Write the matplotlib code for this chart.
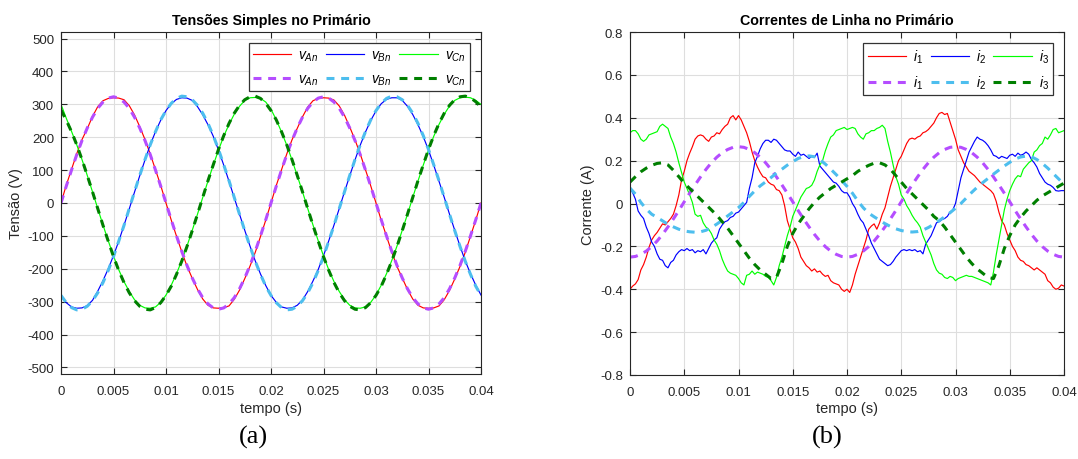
import numpy as np
import matplotlib
matplotlib.use("Agg")
import matplotlib.pyplot as plt

plt.rcParams['font.family'] = ['Liberation Sans', 'DejaVu Sans']
plt.rcParams['mathtext.fontset'] = 'custom'
plt.rcParams['mathtext.it'] = 'Liberation Sans:italic'
plt.rcParams['mathtext.rm'] = 'Liberation Sans'

# ---------------- time bases ----------------
t_v = np.arange(81) * 0.0005       # voltages and fundamental currents
t_i = np.arange(161) * 0.00025     # measured line currents

# ---------------- phase voltages (V) ----------------
vAn = [0, 54, 102, 150, 193, 226, 263, 293, 311, 318, 320, 319, 314, 296, 268, 232, 193, 149, 101, 53,
       0, -52, -101, -148, -192, -229, -263, -292, -311, -319, -320, -318, -313, -293, -265, -230, -192, -150, -102, -52,
       0, 53, 101, 149, 192, 227, 262, 292, 311, 318, 320, 319, 313, 295, 267, 231, 192, 149, 101, 52,
       0, -53, -101, -149, -193, -228, -263, -292, -311, -319, -320, -319, -313, -294, -266, -231, -193, -150, -101, -52, 0]
vAn_f = [0, 51, 100, 147, 190, 228, 261, 288, 307, 319, 323, 319, 307, 288, 261, 228, 190, 147, 100, 51,
         0, -51, -100, -147, -190, -228, -261, -288, -307, -319, -323, -319, -307, -288, -261, -228, -190, -147, -100, -51,
         0, 51, 100, 147, 190, 228, 261, 288, 307, 319, 323, 319, 307, 288, 261, 228, 190, 147, 100, 51,
         0, -51, -100, -147, -190, -228, -261, -288, -307, -319, -323, -319, -307, -288, -261, -228, -190, -147, -100, -51, 0]
vBn = [-283, -303, -316, -320, -319, -312, -296, -268, -236, -200, -160, -116, -68, -18, 33, 83, 131, 177, 217, 252,
       281, 302, 315, 320, 319, 312, 293, 268, 238, 203, 161, 115, 66, 16, -34, -83, -131, -176, -216, -251,
       -281, -302, -316, -320, -319, -311, -295, -269, -237, -202, -160, -115, -67, -17, 34, 83, 131, 176, 216, 251,
       280, 302, 315, 320, 320, 312, 294, 269, 238, 202, 161, 115, 66, 17, -34, -83, -131, -176, -215, -250, -280]
vBn_f = [-281, -303, -318, -325, -323, -314, -297, -273, -242, -205, -163, -116, -68, -17, 34, 84, 132, 177, 217, 253,
         281, 303, 318, 325, 323, 314, 297, 273, 242, 205, 163, 116, 68, 17, -34, -84, -132, -177, -217, -253,
         -281, -303, -318, -325, -323, -314, -297, -273, -242, -205, -163, -116, -68, -17, 34, 84, 132, 177, 217, 253,
         281, 303, 318, 325, 323, 314, 297, 273, 242, 205, 163, 116, 68, 17, -34, -84, -132, -177, -217, -253, -281]
vCn = [300, 258, 218, 177, 132, 84, 34, -17, -67, -115, -161, -203, -239, -269, -294, -311, -319, -320, -316, -302,
       -280, -250, -215, -175, -131, -83, -34, 17, 67, 115, 161, 203, 239, 270, 294, 312, 320, 321, 318, 307,
       285, 253, 216, 176, 131, 83, 34, -17, -67, -115, -161, -203, -239, -269, -294, -311, -319, -320, -316, -302,
       -280, -250, -215, -175, -131, -83, -34, 17, 67, 115, 161, 203, 239, 270, 295, 312, 320, 322, 320, 312, 300]
vCn_f = [283, 252, 217, 177, 132, 84, 34, -17, -68, -116, -163, -205, -242, -273, -297, -314, -323, -325, -318, -303,
         -281, -253, -217, -177, -132, -84, -34, 17, 68, 116, 163, 205, 242, 273, 297, 314, 323, 325, 318, 303,
         281, 253, 217, 177, 132, 84, 34, -17, -68, -116, -163, -205, -242, -273, -297, -314, -323, -325, -318, -303,
         -281, -253, -217, -177, -132, -84, -34, 17, 68, 116, 163, 205, 242, 273, 297, 314, 323, 325, 320, 308, 292]

# ---------------- line currents (A) ----------------
i1 = [-0.40, -0.385, -0.375, -0.355, -0.31, -0.285, -0.25, -0.205, -0.17, -0.15,
      -0.135, -0.115, -0.095, -0.10, -0.085, -0.07, -0.05, -0.01, 0.04, 0.11,
      0.15, 0.20, 0.235, 0.265, 0.30, 0.315, 0.32, 0.315, 0.30, 0.29,
      0.31, 0.315, 0.33, 0.325, 0.345, 0.36, 0.37, 0.40, 0.41, 0.39,
      0.41, 0.39, 0.36, 0.33, 0.29, 0.24, 0.20, 0.17, 0.145, 0.125,
      0.12, 0.10, 0.09, 0.085, 0.065, 0.06, 0.04, -0.01, -0.08, -0.12,
      -0.16, -0.18, -0.21, -0.25, -0.27, -0.29, -0.30, -0.315, -0.305, -0.32,
      -0.315, -0.33, -0.34, -0.335, -0.36, -0.37, -0.375, -0.38, -0.40, -0.41,
      -0.40, -0.415, -0.38, -0.33, -0.29, -0.25, -0.21, -0.17, -0.12, -0.105,
      -0.095, -0.12, -0.09, -0.05, -0.02, 0.03, 0.08, 0.12, 0.16, 0.20,
      0.22, 0.25, 0.28, 0.30, 0.305, 0.30, 0.31, 0.315, 0.33, 0.335,
      0.345, 0.36, 0.375, 0.40, 0.42, 0.425, 0.415, 0.42, 0.38, 0.34,
      0.30, 0.25, 0.22, 0.19, 0.17, 0.15, 0.14, 0.13, 0.115, 0.10,
      0.09, 0.08, 0.07, 0.06, 0.045, 0.01, -0.04, -0.08, -0.10, -0.14,
      -0.17, -0.20, -0.22, -0.25, -0.265, -0.27, -0.285, -0.29, -0.30, -0.31,
      -0.30, -0.31, -0.32, -0.33, -0.36, -0.37, -0.39, -0.40, -0.395, -0.38,
      -0.385]
i2 = [0.07, 0.05, 0.02, -0.035, -0.055, -0.07, -0.11, -0.14, -0.18, -0.20,
      -0.235, -0.26, -0.265, -0.29, -0.30, -0.275, -0.265, -0.24, -0.225, -0.215,
      -0.22, -0.21, -0.22, -0.215, -0.23, -0.22, -0.225, -0.215, -0.235, -0.21,
      -0.185, -0.17, -0.16, -0.12, -0.10, -0.085, -0.08, -0.065, -0.06, -0.045,
      -0.04, -0.025, -0.01, 0.005, 0.07, 0.12, 0.19, 0.22, 0.255, 0.28,
      0.295, 0.295, 0.285, 0.30, 0.295, 0.28, 0.265, 0.25, 0.245, 0.245,
      0.23, 0.22, 0.24, 0.225, 0.23, 0.22, 0.21, 0.22, 0.215, 0.235,
      0.175, 0.16, 0.145, 0.13, 0.115, 0.10, 0.095, 0.08, 0.06, 0.05,
      0.05, 0.03, 0.0, -0.02, -0.05, -0.075, -0.09, -0.12, -0.15, -0.185,
      -0.21, -0.235, -0.26, -0.27, -0.28, -0.29, -0.285, -0.27, -0.25, -0.235,
      -0.22, -0.215, -0.22, -0.215, -0.22, -0.215, -0.225, -0.22, -0.235, -0.19,
      -0.17, -0.15, -0.12, -0.09, -0.085, -0.075, -0.07, -0.06, -0.04, -0.03,
      0.0, 0.06, 0.12, 0.16, 0.20, 0.24, 0.265, 0.29, 0.31, 0.30,
      0.295, 0.285, 0.27, 0.25, 0.225, 0.22, 0.21, 0.22, 0.215, 0.21,
      0.225, 0.23, 0.22, 0.235, 0.225, 0.23, 0.24, 0.23, 0.205, 0.19,
      0.17, 0.14, 0.12, 0.10, 0.09, 0.085, 0.075, 0.06, 0.058, 0.06,
      0.06]
i3 = [0.33, 0.34, 0.34, 0.325, 0.30, 0.29, 0.30, 0.32, 0.325, 0.33,
      0.335, 0.36, 0.37, 0.36, 0.35, 0.31, 0.28, 0.24, 0.19, 0.145,
      0.10, 0.07, 0.04, 0.005, -0.05, -0.06, -0.055, -0.09, -0.11, -0.12,
      -0.14, -0.17, -0.19, -0.22, -0.26, -0.29, -0.315, -0.325, -0.33, -0.335,
      -0.35, -0.37, -0.38, -0.335, -0.33, -0.315, -0.33, -0.32, -0.325, -0.33,
      -0.34, -0.345, -0.36, -0.38, -0.345, -0.29, -0.25, -0.20, -0.15, -0.11,
      -0.06, -0.03, 0.0, 0.03, 0.05, 0.07, 0.075, 0.085, 0.11, 0.15,
      0.18, 0.20, 0.245, 0.28, 0.31, 0.32, 0.34, 0.345, 0.35, 0.355,
      0.345, 0.35, 0.355, 0.35, 0.325, 0.31, 0.30, 0.325, 0.33, 0.34,
      0.34, 0.35, 0.355, 0.365, 0.35, 0.29, 0.24, 0.18, 0.125, 0.09,
      0.04, 0.02, -0.01, -0.03, -0.055, -0.075, -0.09, -0.11, -0.15, -0.18,
      -0.21, -0.24, -0.28, -0.31, -0.325, -0.33, -0.345, -0.35, -0.34, -0.345,
      -0.36, -0.35, -0.345, -0.34, -0.335, -0.34, -0.34, -0.345, -0.35, -0.355,
      -0.36, -0.365, -0.37, -0.38, -0.32, -0.24, -0.17, -0.10, -0.03, 0.02,
      0.06, 0.09, 0.115, 0.13, 0.125, 0.16, 0.175, 0.19, 0.20, 0.24,
      0.25, 0.27, 0.28, 0.31, 0.30, 0.32, 0.345, 0.35, 0.33, 0.335,
      0.34]

# fundamental components of the line currents (A)
i1_f = [-0.250, -0.247, -0.237, -0.222, -0.201, -0.175, -0.144, -0.109, -0.072, -0.033,
        0.008, 0.048, 0.087, 0.124, 0.159, 0.190, 0.216, 0.237, 0.252, 0.262,
        0.265, 0.262, 0.252, 0.237, 0.216, 0.190, 0.159, 0.124, 0.087, 0.048,
        0.008, -0.033, -0.072, -0.109, -0.144, -0.175, -0.201, -0.222, -0.237, -0.247,
        -0.250, -0.247, -0.237, -0.222, -0.201, -0.175, -0.144, -0.109, -0.072, -0.033,
        0.008, 0.048, 0.087, 0.124, 0.159, 0.190, 0.216, 0.237, 0.252, 0.262,
        0.265, 0.262, 0.252, 0.237, 0.216, 0.190, 0.159, 0.124, 0.087, 0.048,
        0.008, -0.033, -0.072, -0.109, -0.144, -0.175, -0.201, -0.222, -0.237, -0.247,
        -0.250]
i2_f = [0.072, 0.044, 0.005, -0.026, -0.050, -0.065, -0.081, -0.097, -0.109, -0.120,
        -0.128, -0.132, -0.134, -0.132, -0.125, -0.112, -0.096, -0.078, -0.058, -0.039,
        -0.019, 0.005, 0.033, 0.059, 0.082, 0.101, 0.121, 0.142, 0.160, 0.179,
        0.195, 0.210, 0.219, 0.222, 0.218, 0.204, 0.184, 0.160, 0.135, 0.108,
        0.080, 0.048, 0.012, -0.020, -0.045, -0.062, -0.078, -0.094, -0.107, -0.118,
        -0.126, -0.131, -0.133, -0.131, -0.124, -0.112, -0.097, -0.080, -0.062, -0.043,
        -0.022, 0.000, 0.026, 0.052, 0.076, 0.097, 0.117, 0.137, 0.156, 0.175,
        0.192, 0.207, 0.217, 0.221, 0.218, 0.205, 0.187, 0.165, 0.140, 0.115,
        0.090]
i3_f = [0.100, 0.125, 0.148, 0.165, 0.178, 0.187, 0.190, 0.180, 0.155, 0.125,
        0.095, 0.070, 0.045, 0.020, -0.005, -0.030, -0.055, -0.085, -0.115, -0.150,
        -0.185, -0.220, -0.255, -0.285, -0.310, -0.330, -0.350, -0.345, -0.280, -0.200,
        -0.140, -0.095, -0.060, -0.025, 0.005, 0.030, 0.050, 0.070, 0.085, 0.100,
        0.115, 0.130, 0.150, 0.165, 0.178, 0.188, 0.190, 0.180, 0.160, 0.130,
        0.100, 0.070, 0.045, 0.020, -0.005, -0.030, -0.060, -0.080, -0.110, -0.145,
        -0.180, -0.215, -0.250, -0.280, -0.305, -0.325, -0.345, -0.350, -0.290, -0.210,
        -0.150, -0.100, -0.065, -0.035, -0.010, 0.015, 0.035, 0.050, 0.065, 0.080,
        0.095]

# ---------------- axis annotations ----------------
time_ticks = [0, 0.005, 0.01, 0.015, 0.02, 0.025, 0.03, 0.035, 0.04]
time_labels = ['0', '0.005', '0.01', '0.015', '0.02', '0.025', '0.03', '0.035', '0.04']
volt_ticks = [-500, -400, -300, -200, -100, 0, 100, 200, 300, 400, 500]
volt_labels = ['-500', '-400', '-300', '-200', '-100', '0', '100', '200', '300', '400', '500']
curr_ticks = [-0.8, -0.6, -0.4, -0.2, 0, 0.2, 0.4, 0.6, 0.8]
curr_labels = ['-0.8', '-0.6', '-0.4', '-0.2', '0', '0.2', '0.4', '0.6', '0.8']

volt_names = [r'$v_{An}$', r'$v_{Bn}$', r'$v_{Cn}$']
curr_names = [r'$i_{1}$', r'$i_{2}$', r'$i_{3}$']

solid_colors = ['#ff0000', '#0000ff', '#00ff00']
dash_colors = ['#b54dff', '#4dbeee', '#007f00']

AX_COLOR = '#262626'
DASH = (0, (2.6, 2.2))

fig = plt.figure(figsize=(10.78, 4.6), dpi=100)
ax1 = fig.add_axes([61 / 1078, 1 - 375 / 460, 420 / 1078, 342 / 460])
ax2 = fig.add_axes([630 / 1078, 1 - 376 / 460, 434 / 1078, 343 / 460])


def style_axes(ax, yticks, ylabels, ylim):
    ax.set_xlim(0, 0.04)
    ax.set_ylim(*ylim)
    ax.set_xticks(time_ticks)
    ax.set_xticklabels(time_labels)
    ax.set_yticks(yticks)
    ax.set_yticklabels(ylabels)
    ax.grid(True, color='#dedede', linewidth=0.8)
    ax.set_axisbelow(True)
    for s in ax.spines.values():
        s.set_color(AX_COLOR)
        s.set_linewidth(0.8)
    ax.tick_params(direction='in', top=True, right=True, length=4, width=0.8,
                   color=AX_COLOR, labelcolor=AX_COLOR, labelsize=9.5)
    ax.tick_params(axis='x', pad=8)
    ax.tick_params(axis='y', pad=5)


def draw_panel(ax, t_s, solids, t_d, dashes, names, title, ylabel, x_in, y_in):
    handles = []
    for y, c, n in zip(solids, solid_colors, names):
        h, = ax.plot(t_s, y, color=c, linewidth=0.85, label=n)
        handles.append(h)
    dhandles = []
    for y, c, n in zip(dashes, dash_colors, names):
        h, = ax.plot(t_d, y, color=c, linewidth=2.2, linestyle=DASH, label=n)
        dhandles.append(h)
    order = [handles[0], dhandles[0], handles[1], dhandles[1], handles[2], dhandles[2]]
    leg = ax.legend(order, [h.get_label() for h in order], ncol=3, loc='upper right',
                    bbox_to_anchor=(1 - x_in, 1 - y_in), borderaxespad=0,
                    fontsize=10, handlelength=2.75, handletextpad=0.5, columnspacing=0.55,
                    labelspacing=0.62, borderpad=0.32, fancybox=False, framealpha=1)
    leg.get_frame().set_edgecolor('#333333')
    leg.get_frame().set_linewidth(0.9)
    ax.set_title(title, fontsize=10.3, fontweight='bold', pad=6, color='black')
    ax.set_xlabel('tempo (s)', fontsize=10.5, color=AX_COLOR)
    ax.set_ylabel(ylabel, fontsize=10.5, color=AX_COLOR)


style_axes(ax1, volt_ticks, volt_labels, (-520, 520))
draw_panel(ax1, t_v, [vAn, vBn, vCn], t_v, [vAn_f, vBn_f, vCn_f], volt_names,
           'Tensões Simples no Primário', 'Tensão (V)', 11 / 420, 11 / 342)
ax1.xaxis.set_label_coords(0.5, -(402 - 375) / 342)
ax1.yaxis.set_label_coords((23 - 61) / 420, 0.5)

style_axes(ax2, curr_ticks, curr_labels, (-0.8, 0.8))
draw_panel(ax2, t_i, [i1, i2, i3], t_v, [i1_f, i2_f, i3_f], curr_names,
           'Correntes de Linha no Primário', 'Corrente (A)', 11 / 434, 11 / 343)
ax2.xaxis.set_label_coords(0.5, -(402 - 376) / 343)
ax2.yaxis.set_label_coords((595 - 630) / 434, 0.5)

fig.text(253 / 1078, 1 - 437 / 460, '(a)', ha='center', va='center',
         fontsize=19, family='Liberation Serif')
fig.text(827 / 1078, 1 - 437 / 460, '(b)', ha='center', va='center',
         fontsize=19, family='Liberation Serif')

fig.savefig('out.png', dpi=100)
